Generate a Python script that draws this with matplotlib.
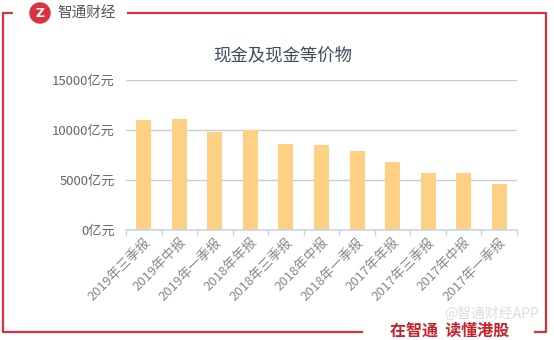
import matplotlib
matplotlib.use("Agg")
import matplotlib.pyplot as plt
from matplotlib.patches import Circle

plt.rcParams["font.family"] = ["Noto Sans CJK SC", "DejaVu Sans"]

categories = ["2019年三季报", "2019年中报", "2019年一季报", "2018年年报",
              "2018年三季报", "2018年中报", "2018年一季报", "2017年年报",
              "2017年三季报", "2017年中报", "2017年一季报"]
values = [11000, 11100, 9800, 10000, 8600, 8500, 7900, 6770, 5670, 5670, 4600]
yticks = [0, 5000, 10000, 15000]
ytick_labels = ["0亿元", "5000亿元", "10000亿元", "15000亿元"]
title = "现金及现金等价物"

W, H = 554, 340
fig = plt.figure(figsize=(W / 100, H / 100), dpi=100)

# overlay in pixel coords for frame and branding
ov = fig.add_axes([0, 0, 1, 1])
ov.set_xlim(0, W)
ov.set_ylim(H, 0)
ov.axis("off")
red = "#d9313d"
lw = 1.6
ov.plot([12, 3], [13, 13], color=red, lw=lw, solid_capstyle="round")
ov.plot([3, 3, 362], [13, 332, 332], color=red, lw=lw, solid_joinstyle="round")
ov.plot([128, 546, 546, 535], [13, 13, 332, 332], color=red, lw=lw,
        solid_joinstyle="round")
ov.add_patch(Circle((40, 13), 10, color=red, zorder=3))
ov.text(40, 13.5, "Z", color="white", fontsize=9, fontweight="bold",
        ha="center", va="center", zorder=4, family="DejaVu Sans")
ov.text(57, 14, "智通财经", color="#555555", fontsize=10.5, ha="left",
        va="center")
ov.text(492, 314, "@智通财经APP", color="#dddddd", fontsize=10,
        ha="center", va="center")
ov.text(450, 331, "在智通  读懂港股", color="#c8232c", fontsize=11.5,
        fontweight="bold", ha="center", va="center")
ov.text(283, 55, title, color="#3d4b5e", fontsize=12.5, ha="center",
        va="center")

# chart axes
left, right, bottom, top = 126, 517, 230, 80
ax = fig.add_axes([left / W, 1 - bottom / H, (right - left) / W,
                   (bottom - top) / H])
x = range(len(categories))
ax.bar(x, values, width=0.42, color="#fdd083", zorder=2)
ax.set_xlim(-0.5, len(categories) - 0.5)
ax.set_ylim(0, 15000)
ax.set_yticks(yticks)
ax.set_yticklabels(ytick_labels, color="#666666", fontsize=9.5)
ax.tick_params(axis="y", length=0, pad=8)
ax.yaxis.grid(True, color="#cccccc", lw=1, zorder=1)
for s in ("top", "right", "left"):
    ax.spines[s].set_visible(False)
ax.spines["bottom"].set_color("#c9d5e8")
ax.spines["bottom"].set_linewidth(1.2)
ax.set_xticks([i - 0.5 for i in range(len(categories) + 1)], minor=True)
ax.tick_params(axis="x", which="minor", length=4, color="#c9d5e8", width=1)
ax.set_xticks(list(x))
ax.set_xticklabels(categories, rotation=45, ha="right", va="top",
                   rotation_mode="anchor", color="#888888", fontsize=9.5)
ax.tick_params(axis="x", which="major", length=0, pad=4)
ax.set_facecolor("none")

fig.savefig("out.png", dpi=100, facecolor="white")
